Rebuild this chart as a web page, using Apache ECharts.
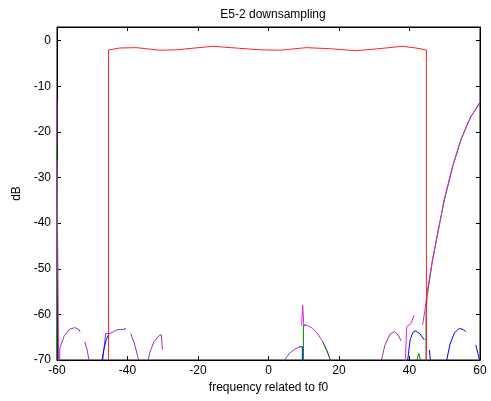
<!DOCTYPE html>
<html>
<head>
<meta charset="utf-8">
<script src="https://cdn.jsdelivr.net/npm/echarts@6/dist/echarts.min.js"></script>
<style>html,body{margin:0;padding:0;background:#fff}#c{width:491px;height:401px}</style>
</head>
<body>
<div id="c"></div>
<script>
// ---- data ----
var xTicks = [-60, -40, -20, 0, 20, 40, 60];
var yTicks = [-70, -60, -50, -40, -30, -20, -10, 0];

// red: decimation filter passband
var redPass = [[-45.4,-75],[-45.4,-2.05],[-42.2,-1.6],[-37.4,-1.53],[-30.8,-2.1],[-26.1,-2.0],[-15.8,-1.23],[-8.2,-1.67],[-2.5,-2.0],[3.1,-2.1],[10.7,-1.53],[17.3,-1.75],[24.8,-2.2],[31.4,-1.75],[38.0,-1.23],[41.8,-1.6],[44.8,-2.05],[44.8,-75]];

// magenta
var magLeft = [[-60,-26],[-59.85,-40],[-59.75,-50],[-59.6,-64],[-59.55,-72]];
var magMid = [[9.4,-62.5],[9.7,-58],[10.0,-62.3],[11,-62.4],[12.6,-63.1],[14,-64.3],[15.4,-66],[16.6,-68],[17.8,-70.5]];
var magR1 = [[38.8,-70.5],[39.2,-62.7],[40.4,-62],[41.3,-60.2]];
var magRise = [[43.7,-62.3],[44.4,-59],[45.1,-54.7],[46.5,-48.1],[48.4,-40.8],[49.8,-34.9],[52.2,-27.6],[54.5,-21.8],[57.4,-16.7],[60,-13.4]];

// dark purple
var purLeft = [[-60,-13.4],[-60,-23.2]];
var purArc = [[31.9,-70.5],[33,-66.8],[34.5,-64.3],[35.7,-63.8],[36.8,-64.5],[37.6,-65.8]];

// violet
var vio1 = [[-59.3,-72],[-59.2,-67.4],[-58,-64.8],[-56.5,-63.3],[-55,-62.9],[-54,-63.2],[-53.6,-63.5]];
var vio2 = [[-52.1,-66],[-51.4,-68],[-50.7,-71]];
var vio3 = [[-47.3,-72],[-46.6,-67],[-46.2,-64.2],[-45.0,-64.2],[-44.0,-63.8],[-43,-63.4],[-42,-63.3],[-41.1,-63.3]];
var vio4 = [[-39.1,-64.2],[-38,-66.5],[-36.5,-71]];
var vio5 = [[-34.4,-71],[-33.7,-68.4],[-32.5,-66],[-31,-64.6],[-30.4,-64.5],[-30.1,-67.7]];
var vio6 = [[4.1,-70.5],[5.9,-68.6],[7.5,-67.6],[9.0,-67.1]];

// blue
var blu1 = [[-53.9,-63.4],[-53.4,-63.7]];
var blu2 = [[-47.4,-71],[-46.8,-68],[-46.0,-65.5],[-45.3,-64.3]];
var blu3 = [[-41.1,-63.3],[-40.5,-63.1]];
var blu4 = [[8.8,-67.1],[9.6,-67.1],[9.6,-71]];
var blu5 = [[39.4,-70.5],[40.2,-65.5],[41.0,-63.9],[41.8,-63.6],[43,-64.3],[44.2,-65.6]];
var blu6 = [[45.6,-67.8],[46.1,-71]];
var blu7 = [[50.3,-71],[51.5,-66.5],[52.8,-64],[54.1,-63.1],[55.2,-63.3],[56,-63.8]];
var blu8 = [[58.8,-66.7],[59.4,-68.5],[60,-70.5]];

// green
var grnLeft = [[-60,-23.2],[-60,-72]];
var grnMid1 = [[9.9,-71],[9.9,-62.4],[10.6,-62.4]];
var grnMid2 = [[15.4,-66],[16.6,-68],[17.8,-70.5]];
var grnArc = [[42,-70.5],[42.6,-68.5],[43.3,-70.5]];
var grnRise = [[44.7,-71],[44.7,-60],[45.0,-56],[46.5,-48.3],[48.2,-41.3],[50.0,-34.6],[52.4,-27.2],[54.7,-21.5],[57.2,-16.9],[60,-13.6]];

function join(parts){ var out=[]; parts.forEach(function(p,i){ if(i) out.push('-'); out=out.concat(p); }); return out; }

var chart = echarts.init(document.getElementById('c'), null, {renderer:'canvas'});
var font = 'Liberation Sans, Arial, sans-serif';
function line(name, color, data){
  return {name:name, type:'line', data:data, showSymbol:false, symbol:'none', clip:true, connectNulls:false,
    lineStyle:{color:color, width:1}, itemStyle:{color:color}, animation:false, silent:true};
}
var axisCommonX = {type:'value', min:-60, max:60, interval:20,
  axisLine:{onZero:false, lineStyle:{color:'#000', width:1}},
  axisTick:{inside:true, length:4, lineStyle:{color:'#000'}},
  splitLine:{show:false}};
var axisCommonY = {type:'value', min:-70, max:3, interval:10,
  axisLine:{onZero:false, lineStyle:{color:'#000', width:1}},
  axisTick:{inside:true, length:4, lineStyle:{color:'#000'}},
  splitLine:{show:false}};
chart.setOption({
  animation:false,
  backgroundColor:'#fff',
  title:{text:'E5-2 downsampling', left:268, top:4, textAlign:'center',
    textStyle:{fontFamily:font, fontSize:12, fontWeight:'normal', color:'#000'}},
  grid:{left:57, right:11, top:27, bottom:41, show:true, borderColor:'#000', borderWidth:1},
  xAxis:[
    Object.assign({}, axisCommonX, {position:'bottom', name:'frequency related to f0', nameLocation:'middle', nameGap:20,
      nameTextStyle:{fontFamily:font, fontSize:12, color:'#000'},
      axisLabel:{fontFamily:font, fontSize:12, color:'#000', margin:5,
        formatter:function(v){ return xTicks.indexOf(v)>=0 ? String(v) : ''; }}}),
    Object.assign({}, axisCommonX, {position:'top', axisLabel:{show:false}})
  ],
  yAxis:[
    Object.assign({}, axisCommonY, {position:'left', name:'dB', nameLocation:'middle', nameGap:33,
      nameTextStyle:{fontFamily:font, fontSize:12, color:'#000'},
      axisLabel:{fontFamily:font, fontSize:12, color:'#000', margin:6,
        formatter:function(v){ return yTicks.indexOf(v)>=0 ? String(v) : ''; }}}),
    Object.assign({}, axisCommonY, {position:'right', axisLabel:{show:false}})
  ],
  series:[
    line('violet', '#9a2ad6', join([vio1,vio2,vio3,vio4,vio5,vio6])),
    line('blue', '#0000ff', join([blu1,blu2,blu3,blu4,blu5,blu6,blu7,blu8])),
    line('purple', '#993399', join([purLeft,purArc])),
    line('green', '#008000', join([grnLeft,grnMid1,grnArc,grnRise])),
    line('magenta', '#dd22dd', join([magLeft,magMid,magR1,magRise])),
    line('green2', '#008000', join([grnMid2])),
    line('red', '#ff2020', redPass)
  ]
});
</script>
</body>
</html>
